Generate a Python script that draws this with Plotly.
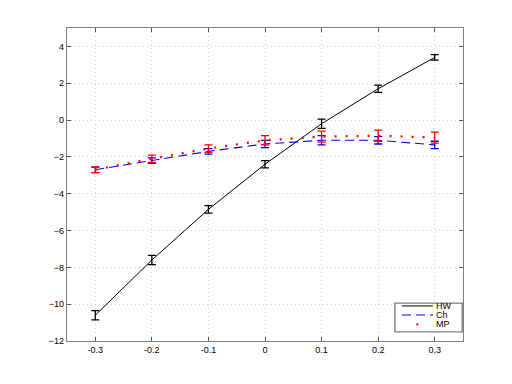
import plotly.graph_objects as go

x = [-0.3, -0.2, -0.1, 0.0, 0.1, 0.2, 0.3]
x_labels = ["-0.3", "-0.2", "-0.1", "0", "0.1", "0.2", "0.3"]
y_ticks = [-12, -10, -8, -6, -4, -2, 0, 2, 4]

hw = [-10.6, -7.6, -4.85, -2.4, -0.2, 1.7, 3.4]
hw_err = [0.25, 0.25, 0.2, 0.2, 0.25, 0.2, 0.15]
ch = [-2.7, -2.2, -1.7, -1.3, -1.1, -1.1, -1.35]
ch_err = [0.15, 0.15, 0.15, 0.2, 0.25, 0.2, 0.2]
mp = [-2.7, -2.1, -1.55, -1.1, -0.9, -0.85, -0.95]
mp_err = [0.15, 0.2, 0.2, 0.25, 0.3, 0.3, 0.3]

FONT = "Liberation Sans, Arial, sans-serif"

fig = go.Figure()

fig.add_trace(go.Scatter(
    x=x, y=hw, name="HW", mode="lines",
    line=dict(color="black", width=1),
    error_y=dict(type="data", array=hw_err, color="black", thickness=1.3, width=4),
))
fig.add_trace(go.Scatter(
    x=x, y=ch, name="Ch", mode="lines",
    line=dict(color="blue", width=1.1, dash="9px,5px"),
    error_y=dict(type="data", array=ch_err, color="blue", thickness=1.3, width=4),
))
fig.add_trace(go.Scatter(
    x=x, y=mp, name="MP", mode="lines",
    line=dict(color="red", width=2.2, dash="2px,9px"),
    error_y=dict(type="data", array=mp_err, color="red", thickness=1.3, width=4),
))

axis = dict(
    showline=True, mirror="ticks", linecolor="#7f7f7f", linewidth=1.4,
    ticks="inside", ticklen=4, tickcolor="#555555", tickwidth=1,
    showgrid=True, gridcolor="#d2d2d2", griddash="1px,3px", gridwidth=1,
    zeroline=False,
    tickfont=dict(family=FONT, size=9, color="black"),
)

fig.update_layout(
    width=512, height=384,
    paper_bgcolor="white", plot_bgcolor="white",
    margin=dict(l=59, r=57, t=20, b=51),
    showlegend=False,
    xaxis=dict(range=[-0.35, 0.35], tickvals=x, ticktext=x_labels, **axis),
    yaxis=dict(range=[-12, 5], tickvals=y_ticks, **axis),
)

# compact legend box, drawn by hand to match the tight MATLAB-style legend
fig.add_shape(type="rect", xref="paper", yref="paper", x0=0.828, x1=0.998, y0=0.029, y1=0.121,
              line=dict(color="#7f7f7f", width=1.4), fillcolor="white", layer="above")
legend_rows = [("HW", 0.112, dict(color="black", width=1)),
               ("Ch", 0.083, dict(color="blue", width=1.1, dash="9px,5px")),
               ("MP", 0.054, None)]
for name, yy, ln in legend_rows:
    if ln is not None:
        fig.add_shape(type="line", xref="paper", yref="paper", x0=0.846, x1=0.924, y0=yy, y1=yy,
                      line=ln, layer="above")
    else:
        fig.add_shape(type="rect", xref="paper", yref="paper", x0=0.882, x1=0.887, y0=yy - 0.004,
                      y1=yy + 0.002, line=dict(width=0), fillcolor="red", layer="above")
    fig.add_annotation(text=name, xref="paper", yref="paper", x=0.927, y=yy, xanchor="left",
                       yanchor="middle", showarrow=False,
                       font=dict(family=FONT, size=9, color="black"))

fig.write_html("out.html")
